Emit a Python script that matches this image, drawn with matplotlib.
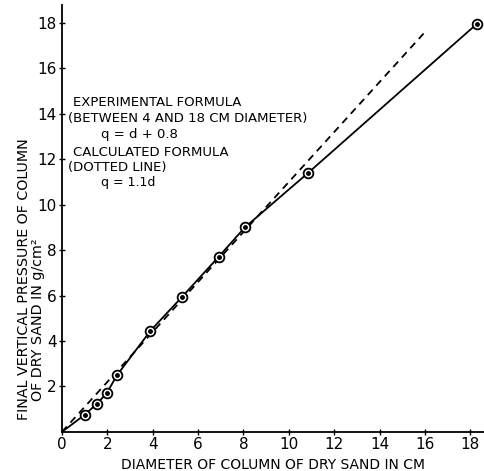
import matplotlib
matplotlib.use("Agg")
import matplotlib.pyplot as plt

# Data
diam = [1.0, 1.55, 1.97, 2.43, 3.9, 5.3, 6.9, 8.06, 10.85, 18.3]
pressure = [0.75, 1.25, 1.7, 2.5, 4.45, 5.95, 7.7, 9.0, 11.4, 17.97]

# Solid (experimental) curve through the points, starting at origin
solid_x = [0.0, 1.0, 1.55, 1.97, 2.43, 3.9, 5.3, 6.9, 8.06, 10.85, 18.3]
solid_y = [0.0, 0.75, 1.25, 1.7, 2.5, 4.45, 5.95, 7.7, 9.0, 11.4, 17.97]

# Dotted (calculated) line q = 1.1 d
calc_x = [0.0, 16.0]
calc_y = [0.0, 17.6]

xticks = [0, 2, 4, 6, 8, 10, 12, 14, 16, 18]
yticks = [2, 4, 6, 8, 10, 12, 14, 16, 18]

plt.rcParams['font.family'] = ['DejaVu Sans']
W, H = 484, 471
fig = plt.figure(figsize=(4.84, 4.71), dpi=100)
ax = fig.add_axes([0.128, 0.083, 0.872, 0.907])
ax.set_xlim(0, 18.6)
ax.set_ylim(0, 18.8)

ax.plot(solid_x, solid_y, color='black', lw=1.3)
ax.plot(calc_x, calc_y, color='black', lw=1.3, ls=(0, (4, 3)))
ax.plot(diam, pressure, ls='none', marker='o', ms=7, mfc='white', mec='black', mew=1.3)
ax.plot(diam, pressure, ls='none', marker='o', ms=2.5, color='black')

for s in ['top', 'right']:
    ax.spines[s].set_visible(False)
for s in ['left', 'bottom']:
    ax.spines[s].set_linewidth(1.3)

ax.set_xticks(xticks)
ax.set_yticks(yticks)
ax.tick_params(direction='inout', length=4, width=1, labelsize=11, pad=2)

ax.set_xlabel('DIAMETER OF COLUMN OF DRY SAND IN CM', fontsize=10, labelpad=4)
fig.text(24 / W, 1 - 279 / H, 'FINAL VERTICAL PRESSURE OF COLUMN', rotation=90,
         fontsize=10.3, ha='center', va='center')
fig.text(38 / W, 1 - 320 / H, 'OF DRY SAND IN g/cm²', rotation=90,
         fontsize=10.3, ha='center', va='center')

fs = 9.5
ax.text(0.5, 14.5, 'EXPERIMENTAL FORMULA', fontsize=fs, ha='left', va='center')
ax.text(0.25, 13.8, '(BETWEEN 4 AND 18 CM DIAMETER)', fontsize=fs, ha='left', va='center')
ax.text(3.4, 13.1, 'q = d + 0.8', fontsize=fs, ha='center', va='center')
ax.text(0.5, 12.3, 'CALCULATED FORMULA', fontsize=fs, ha='left', va='center')
ax.text(0.25, 11.62, '(DOTTED LINE)', fontsize=fs, ha='left', va='center')
ax.text(2.9, 10.98, 'q = 1.1d', fontsize=fs - 0.5, ha='center', va='center')

fig.savefig('out.png', dpi=100)
